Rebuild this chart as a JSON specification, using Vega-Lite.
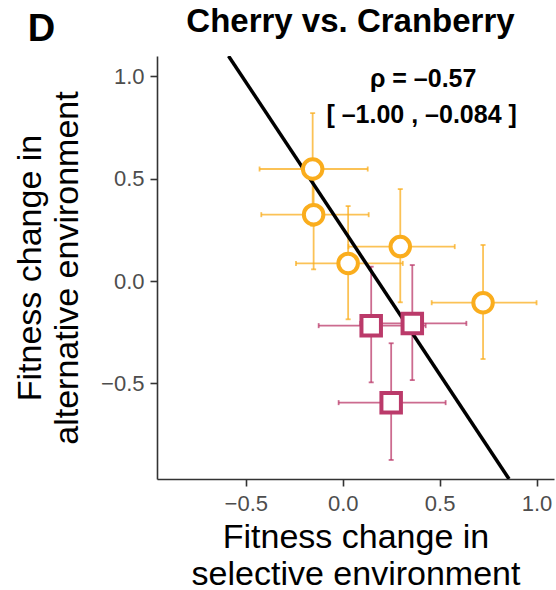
{
  "$schema": "https://vega.github.io/schema/vega-lite/v6.json",
  "background": "white",
  "autosize": {"type": "none"},
  "padding": {"left": 157, "top": 56, "right": 2, "bottom": 111},
  "width": 397,
  "height": 423,
  "datasets": {
    "lines": [
      {"line": "Cherry", "x": -0.155, "y": 0.547, "xlo": -0.429, "xhi": 0.129, "ylo": 0.27, "yhi": 0.82},
      {"line": "Cherry", "x": -0.15, "y": 0.324, "xlo": -0.42, "xhi": 0.134, "ylo": 0.057, "yhi": 0.58},
      {"line": "Cherry", "x": 0.028, "y": 0.086, "xlo": -0.241, "xhi": 0.31, "ylo": -0.187, "yhi": 0.366},
      {"line": "Cherry", "x": 0.297, "y": 0.168, "xlo": 0.03, "xhi": 0.578, "ylo": -0.104, "yhi": 0.449},
      {"line": "Cherry", "x": 0.724, "y": -0.106, "xlo": 0.459, "xhi": 1.0, "ylo": -0.381, "yhi": 0.176},
      {"line": "Cranberry", "x": 0.147, "y": -0.218, "xlo": -0.124, "xhi": 0.428, "ylo": -0.495, "yhi": 0.07},
      {"line": "Cranberry", "x": 0.359, "y": -0.207, "xlo": 0.09, "xhi": 0.638, "ylo": -0.484, "yhi": 0.078},
      {"line": "Cranberry", "x": 0.25, "y": -0.594, "xlo": -0.021, "xhi": 0.531, "ylo": -0.874, "yhi": -0.304}
    ],
    "fit": [
      {"x": -0.589, "y": 1.099},
      {"x": 0.858, "y": -0.967}
    ],
    "labels": [
      {"panel": "D", "heading": "Cherry vs. Cranberry", "rho": "ρ = –0.57", "ci": "[ –1.00 , –0.084 ]"}
    ]
  },
  "layer": [
    {
      "data": {"name": "lines"},
      "mark": {"type": "errorbar", "opacity": 0.75, "rule": {"strokeWidth": 1.8}, "ticks": {"size": 5, "thickness": 1.8}},
      "encoding": {
        "x": {
          "field": "xlo", "type": "quantitative",
          "title": ["Fitness change in", "selective environment"],
          "scale": {"domain": [-0.958, 1.09], "nice": false, "zero": false},
          "axis": {"values": [-0.5, 0, 0.5, 1], "format": ".1f", "grid": false, "labelPadding": 7, "titleBaseline": "alphabetic", "titleY": 68}
        },
        "x2": {"field": "xhi"},
        "y": {
          "field": "y", "type": "quantitative",
          "title": ["Fitness change in", "alternative environment"],
          "scale": {"domain": [-0.967, 1.099], "nice": false, "zero": false},
          "axis": {"values": [-0.5, 0, 0.5, 1], "format": ".1f", "grid": false, "labelPadding": 6, "titleBaseline": "alphabetic", "titleX": -117}
        },
        "color": {"field": "line", "type": "nominal", "scale": {"domain": ["Cherry", "Cranberry"], "range": ["#FAAD1D", "#BB3A6A"]}, "legend": null}
      }
    },
    {
      "data": {"name": "lines"},
      "mark": {"type": "errorbar", "opacity": 0.75, "rule": {"strokeWidth": 1.8}, "ticks": {"size": 5, "thickness": 1.8}},
      "encoding": {
        "x": {"field": "x", "type": "quantitative", "title": ["Fitness change in", "selective environment"]},
        "y": {"field": "ylo", "type": "quantitative", "title": ["Fitness change in", "alternative environment"]},
        "y2": {"field": "yhi"},
        "color": {"field": "line", "type": "nominal", "legend": null}
      }
    },
    {
      "data": {"name": "fit"},
      "mark": {"type": "line", "color": "black", "strokeWidth": 3.5, "clip": true},
      "encoding": {
        "x": {"field": "x", "type": "quantitative", "title": ["Fitness change in", "selective environment"]},
        "y": {"field": "y", "type": "quantitative", "title": ["Fitness change in", "alternative environment"]}
      }
    },
    {
      "data": {"name": "lines"},
      "mark": {"type": "point", "filled": true, "fill": "white", "strokeWidth": 4, "size": 380, "opacity": 1},
      "encoding": {
        "x": {"field": "x", "type": "quantitative", "title": ["Fitness change in", "selective environment"]},
        "y": {"field": "y", "type": "quantitative", "title": ["Fitness change in", "alternative environment"]},
        "stroke": {"field": "line", "type": "nominal", "scale": {"domain": ["Cherry", "Cranberry"], "range": ["#FAAD1D", "#BB3A6A"]}, "legend": null},
        "shape": {"field": "line", "type": "nominal", "scale": {"domain": ["Cherry", "Cranberry"], "range": ["circle", "square"]}, "legend": null}
      }
    },
    {
      "data": {"name": "labels"},
      "mark": {"type": "text", "font": "Liberation Sans", "fontSize": 25, "fontWeight": "bold", "align": "center", "baseline": "alphabetic", "color": "black"},
      "encoding": {
        "text": {"field": "rho"},
        "x": {"datum": 0.415, "type": "quantitative"},
        "y": {"datum": 0.949, "type": "quantitative"}
      }
    },
    {
      "data": {"name": "labels"},
      "mark": {"type": "text", "font": "Liberation Sans", "fontSize": 25, "fontWeight": "bold", "align": "center", "baseline": "alphabetic", "color": "black"},
      "encoding": {
        "text": {"field": "ci"},
        "x": {"datum": 0.407, "type": "quantitative"},
        "y": {"datum": 0.772, "type": "quantitative"}
      }
    },
    {
      "data": {"name": "labels"},
      "mark": {"type": "text", "font": "Liberation Sans", "fontSize": 33, "fontWeight": "bold", "align": "center", "baseline": "alphabetic", "color": "black"},
      "encoding": {
        "text": {"field": "heading"},
        "x": {"datum": 0.04, "type": "quantitative"},
        "y": {"datum": 1.216, "type": "quantitative"}
      }
    },
    {
      "data": {"name": "labels"},
      "mark": {"type": "text", "font": "Liberation Sans", "fontSize": 38, "fontWeight": "bold", "align": "left", "baseline": "alphabetic", "color": "black"},
      "encoding": {
        "text": {"field": "panel"},
        "x": {"datum": -1.625, "type": "quantitative"},
        "y": {"datum": 1.174, "type": "quantitative"}
      }
    }
  ],
  "config": {
    "view": {"stroke": null},
    "axis": {
      "domainColor": "#333333",
      "domainWidth": 1.6,
      "tickColor": "#333333",
      "tickWidth": 1.6,
      "tickSize": 7,
      "labelFont": "Liberation Sans",
      "labelFontSize": 22,
      "labelColor": "#4D4D4D",
      "labelFlush": false,
      "labelOverlap": false,
      "titleFont": "Liberation Sans",
      "titleFontSize": 34,
      "titleFontWeight": "normal",
      "titleColor": "black",
      "titleLineHeight": 37
    }
  }
}
